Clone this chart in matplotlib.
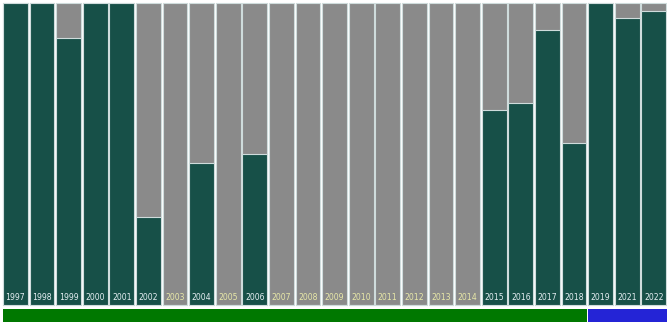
import matplotlib
matplotlib.use("Agg")
import matplotlib.pyplot as plt

years = ["1997", "1998", "1999", "2000", "2001", "2002", "2003", "2004", "2005", "2006",
         "2007", "2008", "2009", "2010", "2011", "2012", "2013", "2014", "2015", "2016",
         "2017", "2018", "2019", "2021", "2022"]
values = [1.0, 1.0, 0.884, 1.0, 1.0, 0.29, 0.0, 0.47, 0.0, 0.50,
          0.0, 0.0, 0.0, 0.0, 0.0, 0.0, 0.0, 0.0, 0.645, 0.668,
          0.91, 0.535, 1.0, 0.95, 0.973]
period_groups = ["A"] * 22 + ["B"] * 3
period_colors = {"A": "#007800", "B": "#2424d6"}

fig = plt.figure(figsize=(6.67, 3.23), dpi=100)
ax = fig.add_axes([0, 0, 1, 1])
n = len(years)
x = list(range(n))
w = 0.93
edge = "#cfdcdc"

ax.bar(x, [1.0] * n, width=w, color="#8a8a8a", edgecolor=edge, linewidth=0.8)
ax.bar(x, values, width=w, color="#175048", edgecolor=edge, linewidth=0.8)

for i, (yr, v) in enumerate(zip(years, values)):
    col = "#e4eef2" if v > 0.05 else "#e8e8a8"
    ax.text(i, 0.026, yr, ha="center", va="center", fontsize=5.6, color=col)

# period strip
xmin = -w / 2 - 3 / 26.6
xmax = xmin + 667 / 26.6
start = xmin + 3 / 26.6
i = 0
while i < n:
    j = i
    while j + 1 < n and period_groups[j + 1] == period_groups[i]:
        j += 1
    left = start if i == 0 else i - 0.5 + 0.02
    right = xmax if j == n - 1 else j + 0.5
    ax.bar((left + right) / 2, -0.043, width=right - left, bottom=-0.0135,
           color=period_colors[period_groups[i]], linewidth=0)
    i = j + 1

ax.set_xlim(xmin, xmax)
ax.set_ylim(-18 / 302, 1 + 3 / 302)
ax.axis("off")
fig.savefig("out.png", dpi=100)
